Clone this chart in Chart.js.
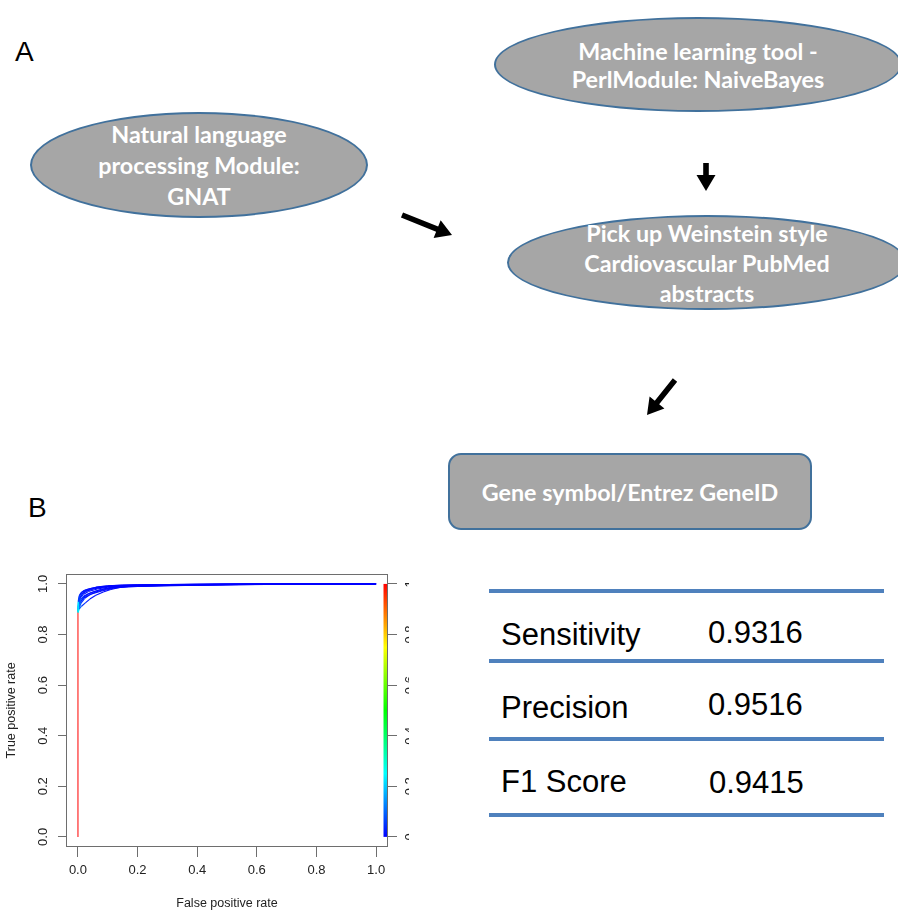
<!DOCTYPE html>
<html>
<head>
<meta charset="utf-8">
<script src="https://cdn.jsdelivr.net/npm/chart.js@4.4.1/dist/chart.umd.min.js"></script>
<style>
  html, body { margin: 0; padding: 0; background: #fff; }
  body { width: 898px; height: 911px; position: relative; overflow: hidden; font-family: "Liberation Sans", Arial, sans-serif; }
  .panel { position: absolute; font-size: 28px; line-height: 28px; color: #000; }
  .node { position: absolute; box-sizing: border-box; background: #a6a6a6; border: 2.5px solid #41719c;
          color: #fff; font-family: Lato, "Open Sans", sans-serif; font-weight: bold;
          font-size: 23.3px; display: flex; flex-direction: column; align-items: center; justify-content: center;
          text-align: center; white-space: nowrap; }
  .ell { border-radius: 50%; }
  .node div { height: 30px; line-height: 30px; }
  .rule { position: absolute; left: 489px; width: 395px; height: 4px; background: #4f81bd; }
  .cell { position: absolute; font-size: 31px; line-height: 31px; color: #000; white-space: nowrap; }
  #arrows { position: absolute; left: 0; top: 0; }
  #roc { position: absolute; left: 0; top: 560px; width: 409px; height: 351px; }
</style>
</head>
<body>
<div class="panel" style="left:15px;top:38px">A</div>
<div class="panel" style="left:28px;top:494px">B</div>

<div class="node ell" style="left:494px;top:17px;width:408px;height:95px">
  <div style="height:28px;line-height:28px">Machine learning tool -</div>
  <div style="height:28px;line-height:28px">PerlModule: NaiveBayes</div>
</div>
<div class="node ell" style="left:30px;top:112px;width:338px;height:106px">
  <div style="height:31px;line-height:31px">Natural language</div>
  <div style="height:31px;line-height:31px">processing Module:</div>
  <div style="height:31px;line-height:31px">GNAT</div>
</div>
<div class="node ell" style="left:507px;top:215px;width:400px;height:95px">
  <div>Pick up Weinstein style</div><div>Cardiovascular PubMed</div><div>abstracts</div>
</div>
<div class="node" style="left:448px;top:453px;width:364px;height:77px;border-radius:13px">
  <div>Gene symbol/Entrez GeneID</div>
</div>

<svg id="arrows" width="898" height="911"></svg>

<div id="metrics"></div>

<div id="roc"><canvas id="rocChart"></canvas></div>

<script>
// axis ticks
const xTicks = [0, 0.2, 0.4, 0.6, 0.8, 1.0];
const yTicks = [0, 0.2, 0.4, 0.6, 0.8, 1.0];
const cutoffTicks = [0, 0.2, 0.4, 0.6, 0.8, 1];

// ROC curves, one list per cross-validation fold
const rocFpr = [
  [0, 0, 0, 0.002, 0.006, 0.015, 0.03, 0.06, 0.1, 0.15, 0.3, 0.45, 1],
  [0, 0, 0, 0.004, 0.012, 0.025, 0.04, 0.06, 0.085, 0.11, 0.14, 0.2, 0.4, 0.63, 1],
  [0, 0, 0, 0.003, 0.01, 0.02, 0.04, 0.07, 0.11, 0.16, 0.35, 0.62, 1],
  [0, 0, 0, 0.002, 0.008, 0.018, 0.035, 0.065, 0.1, 0.14, 0.25, 0.5, 0.87, 1],
  [0, 0, 0, 0.003, 0.009, 0.02, 0.045, 0.08, 0.12, 0.17, 0.38, 0.63, 1],
  [0, 0, 0, 0.002, 0.005, 0.012, 0.025, 0.05, 0.09, 0.13, 0.28, 0.55, 0.87, 1],
  [0, 0, 0, 0.003, 0.008, 0.016, 0.03, 0.055, 0.09, 0.13, 0.22, 0.42, 0.7, 1],
  [0, 0, 0, 0.004, 0.011, 0.022, 0.038, 0.06, 0.09, 0.125, 0.17, 0.33, 0.6, 1],
  [0, 0, 0, 0.001, 0.004, 0.01, 0.022, 0.045, 0.08, 0.12, 0.2, 0.4, 1],
  [0, 0, 0, 0.003, 0.01, 0.02, 0.035, 0.055, 0.08, 0.115, 0.16, 0.3, 0.5, 1]
];
const rocTpr = [
  [0, 0.45, 0.89, 0.93, 0.955, 0.968, 0.978, 0.987, 0.992, 0.995, 0.997, 0.999, 1],
  [0, 0.42, 0.886, 0.9, 0.912, 0.925, 0.94, 0.955, 0.968, 0.978, 0.986, 0.99, 0.995, 0.998, 1],
  [0, 0.44, 0.9, 0.922, 0.94, 0.952, 0.964, 0.975, 0.985, 0.991, 0.996, 0.999, 1],
  [0, 0.43, 0.895, 0.918, 0.945, 0.958, 0.97, 0.98, 0.987, 0.992, 0.995, 0.998, 1, 1],
  [0, 0.45, 0.892, 0.91, 0.93, 0.945, 0.96, 0.972, 0.983, 0.99, 0.996, 0.999, 1],
  [0, 0.42, 0.888, 0.915, 0.94, 0.958, 0.972, 0.982, 0.989, 0.993, 0.996, 0.998, 0.999, 1],
  [0, 0.44, 0.893, 0.925, 0.948, 0.962, 0.972, 0.981, 0.988, 0.992, 0.995, 0.998, 0.999, 1],
  [0, 0.43, 0.887, 0.905, 0.925, 0.942, 0.956, 0.968, 0.978, 0.986, 0.991, 0.995, 0.998, 1],
  [0, 0.45, 0.9, 0.93, 0.952, 0.965, 0.975, 0.983, 0.989, 0.993, 0.996, 0.998, 1],
  [0, 0.42, 0.89, 0.912, 0.932, 0.948, 0.96, 0.97, 0.979, 0.987, 0.991, 0.995, 0.998, 1]
];
const rocCutoff = [
  [1, 1, 0.98, 0.22, 0.06, 0.03, 0.02, 0.012, 0.008, 0.005, 0.003, 0.002, 0],
  [1, 1, 0.97, 0.25, 0.1, 0.05, 0.03, 0.02, 0.015, 0.01, 0.008, 0.005, 0.003, 0.002, 0],
  [1, 1, 0.99, 0.2, 0.08, 0.04, 0.02, 0.012, 0.008, 0.005, 0.003, 0.002, 0],
  [1, 1, 0.98, 0.18, 0.07, 0.04, 0.02, 0.012, 0.008, 0.005, 0.003, 0.002, 0.001, 0],
  [1, 1, 0.98, 0.24, 0.09, 0.04, 0.02, 0.012, 0.008, 0.005, 0.003, 0.002, 0],
  [1, 1, 0.97, 0.2, 0.06, 0.03, 0.02, 0.012, 0.008, 0.005, 0.003, 0.002, 0.001, 0],
  [1, 1, 0.98, 0.2, 0.05, 0.03, 0.02, 0.012, 0.008, 0.005, 0.003, 0.002, 0.001, 0],
  [1, 1, 0.97, 0.26, 0.09, 0.05, 0.03, 0.02, 0.012, 0.008, 0.005, 0.003, 0.002, 0],
  [1, 1, 0.99, 0.18, 0.05, 0.03, 0.02, 0.012, 0.008, 0.005, 0.003, 0.002, 0],
  [1, 1, 0.98, 0.22, 0.08, 0.04, 0.03, 0.02, 0.012, 0.008, 0.005, 0.003, 0.002, 0]
];

// performance table
const metricNames = ['Sensitivity', 'Precision', 'F1 Score'];
const metricValues = ['0.9316', '0.9516', '0.9415'];

const FONT = "'Liberation Sans', Arial, sans-serif";
const rainbow = (c, a = 1) => `hsla(${(1 - c) * 240}, 100%, 50%, ${a})`;

// table
(function(){
  const box = document.getElementById('metrics');
  const ruleTops = [589, 659, 737, 813];
  const nameTops = [619, 692, 766];
  const valueTops = [617, 689, 767];
  ruleTops.forEach(t => { const d = document.createElement('div'); d.className = 'rule'; d.style.top = t + 'px'; box.appendChild(d); });
  metricNames.forEach((name, i) => {
    const a = document.createElement('div'); a.className = 'cell'; a.textContent = name;
    a.style.left = '501px'; a.style.top = nameTops[i] + 'px'; box.appendChild(a);
    const b = document.createElement('div'); b.className = 'cell'; b.textContent = metricValues[i];
    b.style.left = (i === 2 ? 709 : 708) + 'px'; b.style.top = valueTops[i] + 'px'; box.appendChild(b);
  });
})();

// block arrows of the flowchart
(function(){
  const svg = document.getElementById('arrows');
  const arrow = (x1, y1, x2, y2) => {
    const dx = x2 - x1, dy = y2 - y1, len = Math.hypot(dx, dy);
    const ux = dx / len, uy = dy / len, nx = -uy, ny = ux;
    const head = 16, hw = 9.5, sw = 2.8;
    const bx = x2 - ux * head, by = y2 - uy * head;
    const pts = [
      [x1 + nx * sw, y1 + ny * sw], [bx + nx * sw, by + ny * sw], [bx + nx * hw, by + ny * hw],
      [x2, y2], [bx - nx * hw, by - ny * hw], [bx - nx * sw, by - ny * sw], [x1 - nx * sw, y1 - ny * sw]
    ];
    const p = document.createElementNS('http://www.w3.org/2000/svg', 'polygon');
    p.setAttribute('points', pts.map(q => q.join(',')).join(' '));
    p.setAttribute('fill', '#000');
    svg.appendChild(p);
  };
  arrow(706, 163, 706, 191);
  arrow(402, 215, 452, 235);
  arrow(675, 380, 647, 415);
})();

const framePlugin = {
  id: 'frame',
  afterDatasetsDraw(chart) {
    const {ctx, chartArea: a, scales} = chart;
    const y0 = scales.y.getPixelForValue(0), y1 = scales.y.getPixelForValue(1);
    const g = ctx.createLinearGradient(0, y0, 0, y1);
    for (let i = 0; i <= 12; i++) g.addColorStop(i / 12, rainbow(i / 12));
    ctx.save();
    ctx.fillStyle = g;
    ctx.fillRect(a.right - 4.5, y1, 4, y0 - y1);
    ctx.strokeStyle = '#6e6e6e';
    ctx.lineWidth = 1;
    ctx.strokeRect(Math.round(a.left) + 0.5, Math.round(a.top) + 0.5, Math.round(a.width) - 1, Math.round(a.height) - 1);
    ctx.restore();
  }
};

function initChart(){
  const datasets = rocFpr.map((fpr, k) => {
    const cut = rocCutoff[k];
    return {
      data: fpr.map((x, i) => ({x, y: rocTpr[k][i]})),
      showLine: true,
      pointRadius: 0,
      borderWidth: 1.2,
      borderColor: '#0000ff',
      segment: { borderColor: (c) => { const v = cut[c.p1DataIndex]; return rainbow(v, v > 0.9 ? 0.12 : 1); } }
    };
  });
  const tickFont = { family: FONT, size: 13 };
  const gridOpts = (len) => ({ drawOnChartArea: false, drawTicks: true, tickLength: len, color: '#6e6e6e' });
  new Chart(document.getElementById('rocChart'), {
    type: 'scatter',
    data: { datasets },
    options: {
      responsive: true,
      maintainAspectRatio: false,
      animation: false,
      layout: { padding: { top: 13, left: 0, right: 0, bottom: 0 } },
      plugins: { legend: { display: false }, tooltip: { enabled: false } },
      scales: {
        x: {
          type: 'linear', min: -0.04, max: 1.04,
          afterBuildTicks: (s) => { s.ticks = xTicks.map(v => ({value: v})); },
          afterFit: (s) => { s.height = 64; },
          border: { display: false },
          grid: gridOpts(10),
          ticks: { autoSkip: false, maxRotation: 0, padding: 6, color: '#222', font: tickFont, callback: (v) => Number(v).toFixed(1) },
          title: { display: true, text: 'False positive rate', color: '#222', font: { family: FONT, size: 12.5 }, padding: { top: 0, bottom: 0 } }
        },
        y: {
          type: 'linear', position: 'left', min: -0.04, max: 1.04,
          afterBuildTicks: (s) => { s.ticks = yTicks.map(v => ({value: v})); },
          afterFit: (s) => { s.width = 66; },
          border: { display: false },
          grid: gridOpts(8),
          ticks: { autoSkip: false, minRotation: 90, maxRotation: 90, crossAlign: 'center', padding: 6, color: '#222', font: tickFont, callback: (v) => Number(v).toFixed(1) },
          title: { display: true, text: 'True positive rate', color: '#222', font: { family: FONT, size: 12.5 }, padding: { top: 4.5, bottom: 0 } }
        },
        y2: {
          type: 'linear', position: 'right', min: -0.04, max: 1.04,
          afterBuildTicks: (s) => { s.ticks = cutoffTicks.map(v => ({value: v})); },
          afterFit: (s) => { s.width = 21; },
          border: { display: false },
          grid: gridOpts(9),
          ticks: { autoSkip: false, minRotation: 90, maxRotation: 90, crossAlign: 'center', padding: 4, color: '#222', font: tickFont, callback: (v) => String(v) }
        }
      }
    },
    plugins: [framePlugin]
  });
}

if (document.readyState === 'loading') document.addEventListener('DOMContentLoaded', initChart); else initChart();
</script>
</body>
</html>
